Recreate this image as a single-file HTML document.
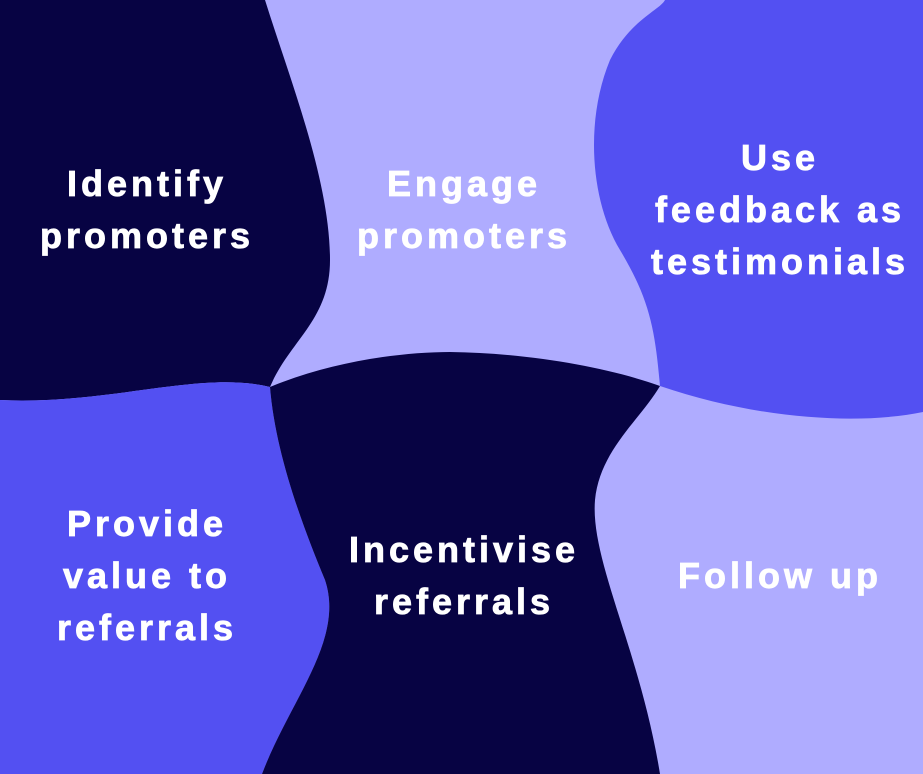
<!DOCTYPE html>
<html><head><meta charset="utf-8"><style>
html,body{margin:0;padding:0;background:#afacff}
svg{display:block}
text{font-family:"Liberation Sans",sans-serif;font-weight:bold;font-size:36px;letter-spacing:4px;fill:#fff;stroke:#fff;stroke-width:0.8px;text-anchor:middle}
</style></head><body>
<svg width="923" height="774" viewBox="0 0 923 774" xmlns="http://www.w3.org/2000/svg">
<rect width="923" height="774" fill="#afacff"/>
<path fill="#070343" d="M0,0 L265,0 C290,80 330,180 330,260 C330,320 290,340 270,387 C200,370 110,405 0,400 Z"/>
<path fill="#5350f2" d="M665,0 L923,0 L923,412 C860,425 760,420 660,386 C655,330 650,300 620,250 C590,200 585,120 610,60 C630,20 660,10 665,0 Z"/>
<path fill="#5350f2" d="M0,400 C110,405 200,370 270,387 C275,450 300,520 325,580 C345,640 290,700 262,774 L0,774 Z"/>
<path fill="#070343" d="M270,387 C330,362 400,352 450,352 C530,353 610,368 660,386 C640,420 600,450 595,500 C590,560 640,650 660,774 L262,774 C290,700 345,640 325,580 C300,520 275,450 270,387 Z"/>
<text x="147" y="196">Identify</text>
<text x="147" y="248">promoters</text>
<text x="464" y="196">Engage</text>
<text x="464" y="248">promoters</text>
<text x="780" y="170">Use</text>
<text x="780" y="222">feedback as</text>
<text x="780" y="274">testimonials</text>
<text x="147" y="536">Provide</text>
<text x="147" y="588">value to</text>
<text x="147" y="640">referrals</text>
<text x="464" y="562">Incentivise</text>
<text x="464" y="614">referrals</text>
<text x="780" y="588">Follow up</text>
</svg>
</body></html>
